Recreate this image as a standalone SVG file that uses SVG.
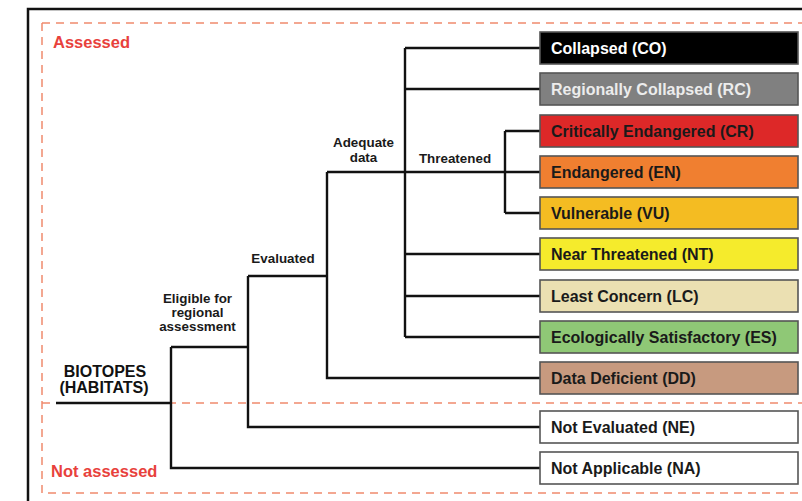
<svg xmlns="http://www.w3.org/2000/svg" width="802" height="501" viewBox="0 0 802 501">
<style>
.frame{fill:none;stroke:#111;stroke-width:2.5}
.dash{fill:none;stroke:#f08a6e;stroke-width:1.5;stroke-dasharray:8 6}
.zone{font-family:"Liberation Sans",Arial,sans-serif;font-weight:bold;font-size:16.5px;fill:#e8413c}
.lbl{font-family:"Liberation Sans",Arial,sans-serif;font-weight:bold;font-size:13.4px;fill:#1a1a1a;text-anchor:middle}
.root{font-family:"Liberation Sans",Arial,sans-serif;font-weight:bold;font-size:16px;fill:#111;text-anchor:middle}
.box{stroke:#555;stroke-width:1.6}
.bt{font-family:"Liberation Sans",Arial,sans-serif;font-weight:bold;font-size:16px;fill:#1a1a1a}
.conn{fill:none;stroke:#111;stroke-width:2.4}
</style>
<rect x="0" y="0" width="802" height="501" fill="#fff"/>
<rect class="frame" x="28" y="9" width="800" height="520"/>
<g id="zones">
<path class="dash" d="M42 23 H802 M42 23 V493 H802 M42 403 H802"/>
<text class="zone" x="53" y="48">Assessed</text>
<text class="zone" x="51" y="477">Not assessed</text>
</g>
<g id="connectors">
<path class="conn" d="M56 403 H171 M171 347 V468 H540 M171 347 H248 M248 276 V427 H540 M248 276 H327 M327 172 V378 H540 M327 172 H540 M405 48 V337 M405 48 H540 M405 89 H540 M405 254 H540 M405 296 H540 M405 337 H540 M505 131 V213 M505 131 H540 M505 213 H540"/>
</g>
<g id="root"><text class="root" x="105" y="377">BIOTOPES</text><text class="root" x="104" y="393">(HABITATS)</text></g>
<g id="lbl-eligible"><text class="lbl" x="197.5" y="303">Eligible for</text><text class="lbl" x="197.5" y="317">regional</text><text class="lbl" x="197.5" y="331">assessment</text></g>
<g id="lbl-evaluated"><text class="lbl" x="283" y="263">Evaluated</text></g>
<g id="lbl-adequate"><text class="lbl" x="363.5" y="147">Adequate</text><text class="lbl" x="363.5" y="162">data</text></g>
<g id="lbl-threatened"><text class="lbl" x="455" y="163">Threatened</text></g>
<g id="CO"><rect class="box" x="540" y="32" width="258" height="32" fill="#000"/><text class="bt" x="551" y="54" style="fill:#fff">Collapsed (CO)</text></g>
<g id="RC"><rect class="box" x="540" y="73" width="258" height="32" fill="#808080"/><text class="bt" x="551" y="95" style="fill:#ececec">Regionally Collapsed (RC)</text></g>
<g id="CR"><rect class="box" x="540" y="115" width="258" height="32" fill="#dd2828"/><text class="bt" x="551" y="137">Critically Endangered (CR)</text></g>
<g id="EN"><rect class="box" x="540" y="156" width="258" height="32" fill="#f07f30"/><text class="bt" x="551" y="178">Endangered (EN)</text></g>
<g id="VU"><rect class="box" x="540" y="197" width="258" height="32" fill="#f4bc22"/><text class="bt" x="551" y="219">Vulnerable (VU)</text></g>
<g id="NT"><rect class="box" x="540" y="238" width="258" height="32" fill="#f5eb2c"/><text class="bt" x="551" y="260">Near Threatened (NT)</text></g>
<g id="LC"><rect class="box" x="540" y="280" width="258" height="32" fill="#ebe0b2"/><text class="bt" x="551" y="302">Least Concern (LC)</text></g>
<g id="ES"><rect class="box" x="540" y="321" width="258" height="32" fill="#8fc876"/><text class="bt" x="551" y="343">Ecologically Satisfactory (ES)</text></g>
<g id="DD"><rect class="box" x="540" y="362" width="258" height="32" fill="#c79a7f"/><text class="bt" x="551" y="384">Data Deficient (DD)</text></g>
<g id="NE"><rect class="box" x="540" y="411" width="258" height="32" fill="#fff"/><text class="bt" x="551" y="433">Not Evaluated (NE)</text></g>
<g id="NA"><rect class="box" x="540" y="452" width="258" height="32" fill="#fff"/><text class="bt" x="551" y="474">Not Applicable (NA)</text></g>
</svg>
